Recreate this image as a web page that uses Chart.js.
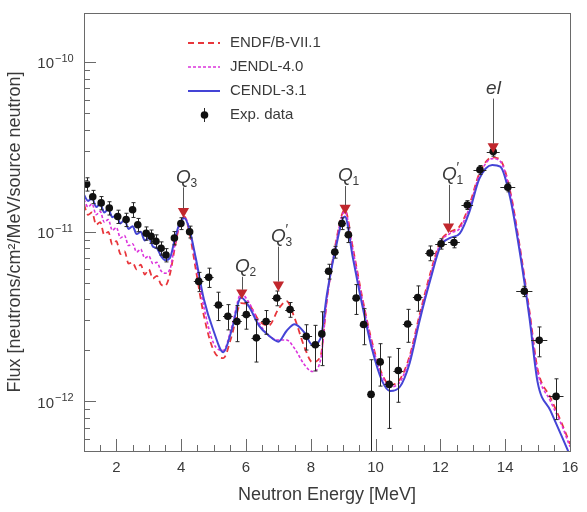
<!DOCTYPE html>
<html>
<head>
<meta charset="utf-8">
<script src="https://cdn.jsdelivr.net/npm/chart.js@4.4.1/dist/chart.umd.min.js"></script>
<style>
  html, body { margin: 0; padding: 0; background: #fff; }
  #wrap { width: 587px; height: 512px; }
</style>
</head>
<body>
<div id="wrap"><canvas id="fluxChart" width="587" height="512"></canvas></div>
<script>
// flux values below are in units of 1e-12 n/cm2/MeV/source neutron
const FLUX_UNIT = 1e-12;

const energyGrid = [1.0, 1.125, 1.25, 1.375, 1.5, 1.625, 1.75, 1.875, 2.0, 2.125, 2.25, 2.375, 2.5, 2.625, 2.75, 2.875, 3.0, 3.125, 3.25, 3.375, 3.5,
  3.65, 3.8, 3.95, 4.1, 4.25, 4.45, 4.7, 5.0, 5.3, 5.55, 5.85, 6.1, 6.4, 6.7, 7.0, 7.25, 7.5, 7.8, 8.05, 8.3,
  8.5, 8.75, 9.05, 9.3, 9.6, 9.9, 10.2, 10.45, 10.75, 11.05, 11.35, 11.7, 12.0, 12.3, 12.6, 12.9, 13.2, 13.6, 13.85, 14.15,
  14.45, 14.75, 15.0, 15.4, 15.75, 16.0];

const endfFlux = [14.5, 12.6, 13.0, 11.0, 11.4, 9.6, 10.0, 8.4, 8.8, 7.4, 7.7, 6.5, 6.6, 6.0, 6.4, 5.6, 6.0, 5.3, 5.5, 4.9, 4.8,
  5.6, 8.0, 11.0, 12.3, 10.0, 6.0, 3.2, 2.0, 1.8, 2.4, 3.8, 3.7, 3.0, 2.8, 3.5, 3.9, 3.1, 2.1, 1.7, 1.85,
  4.0, 8.2, 13.5, 8.0, 4.0, 2.2, 1.45, 1.25, 1.35, 1.85, 3.2, 5.8, 8.8, 10.0, 10.8, 14.5, 22.0, 27.5, 26.5, 17.5,
  8.2, 3.4, 1.55, 1.05, 0.74, 0.56];

const jendlFlux = [15.5, 14.0, 14.6, 12.6, 13.2, 11.4, 11.8, 10.2, 10.6, 9.2, 9.5, 8.3, 8.5, 7.6, 7.9, 7.0, 7.2, 6.5, 6.6, 5.9, 5.7,
  6.0, 8.3, 11.0, 12.2, 10.4, 6.6, 3.6, 2.2, 2.0, 2.7, 4.3, 3.8, 2.9, 2.45, 2.3, 2.3, 2.05, 1.65, 1.5, 1.75,
  4.0, 8.0, 13.2, 7.8, 3.9, 2.15, 1.42, 1.22, 1.3, 1.8, 3.1, 5.6, 8.6, 9.8, 10.5, 14.0, 21.5, 27.0, 26.0, 17.2,
  8.0, 3.3, 1.5, 1.0, 0.72, 0.54];

const cendlFlux = [16.5, 15.2, 15.8, 14.0, 14.6, 13.0, 13.6, 12.2, 12.5, 11.2, 11.8, 10.4, 10.8, 9.7, 10.0, 8.9, 9.2, 8.2, 8.0, 7.2, 6.8,
  7.0, 9.0, 11.2, 12.0, 10.4, 7.0, 4.0, 2.6, 1.95, 2.6, 4.1, 3.6, 2.8, 2.45, 2.25, 2.6, 2.85, 2.55, 2.15, 2.35,
  4.3, 7.7, 12.3, 7.0, 3.6, 2.0, 1.32, 1.15, 1.22, 1.68, 2.95, 5.3, 8.2, 9.2, 9.8, 13.2, 20.5, 24.8, 24.2, 16.0,
  7.6, 3.1, 1.3, 0.88, 0.62, 0.48];

const expEnergy = [1.08, 1.27, 1.53, 1.78, 2.04, 2.30, 2.50, 2.66, 2.92, 3.07, 3.22, 3.38, 3.53, 3.79, 3.99,
  4.26, 4.54, 4.85, 5.15, 5.44, 5.72, 6.01, 6.32, 6.62, 6.95, 7.36, 7.86, 8.14, 8.34, 8.55,
  8.74, 8.96, 9.16, 9.40, 9.63, 9.86, 10.14, 10.42, 10.70, 10.99, 11.30, 11.68, 12.02, 12.42, 12.83,
  13.22, 13.63, 14.08, 14.59, 15.05, 15.57];
const expFlux = [19.1, 16.1, 14.8, 13.8, 12.3, 11.8, 13.5, 11.0, 9.8, 9.4, 8.8, 8.0, 7.3, 9.2, 11.2,
  10.0, 5.1, 5.4, 3.7, 3.18, 2.96, 3.25, 2.37, 2.96, 4.07, 3.48, 2.42, 2.16, 2.5, 5.85,
  7.6, 11.2, 9.6, 4.07, 2.84, 1.1, 1.71, 1.26, 1.52, 2.86, 4.1, 7.5, 8.5, 8.65, 14.4,
  23.2, 29.7, 18.3, 4.46, 2.29, 1.07];
// relative flux uncertainty
const expRelErr = [0.09, 0.09, 0.09, 0.09, 0.09, 0.09, 0.1, 0.09, 0.09, 0.09, 0.09, 0.09, 0.09, 0.09, 0.08,
  0.08, 0.13, 0.13, 0.19, 0.17, 0.24, 0.18, 0.28, 0.16, 0.1, 0.1, 0.17, 0.3, 0.35, 0.1,
  0.08, 0.08, 0.1, 0.2, 0.24, 0.6, 0.28, 0.45, 0.35, 0.22, 0.17, 0.1, 0.07, 0.07, 0.06,
  0.06, 0.06, 0.06, 0.07, 0.2, 0.27];
// energy bin half width [MeV]
const expEnergyErr = [0.08, 0.08, 0.08, 0.08, 0.08, 0.08, 0.08, 0.08, 0.08, 0.08, 0.08, 0.08, 0.08, 0.08, 0.08,
  0.08, 0.15, 0.15, 0.15, 0.15, 0.15, 0.15, 0.15, 0.15, 0.15, 0.15, 0.18, 0.15, 0.1, 0.12,
  0.12, 0.12, 0.12, 0.12, 0.12, 0.12, 0.12, 0.15, 0.15, 0.15, 0.15, 0.15, 0.18, 0.18, 0.18,
  0.2, 0.2, 0.23, 0.25, 0.25, 0.23];

// peak markers
const peakText = ['Q', 'Q', 'Q', 'Q', 'Q', 'el'];
const peakSub = ['3', '2', '3', '1', '1', ''];
const peakPrime = [false, false, true, false, true, false];
const peakEnergy = [4.07, 5.87, 7.0, 9.06, 12.25, 13.63];
const peakFlux = [13.2, 4.37, 4.88, 13.8, 10.7, 31.8];
const peakLabelLift = [34, 26, 48, 32, 52, 58];

const xTickValues = [2, 4, 6, 8, 10, 12, 14, 16];
const yDecades = [-12, -11, -10];
const legendLabels = ['ENDF/B-VII.1', 'JENDL-4.0', 'CENDL-3.1', 'Exp. data'];

const FONT = '"Liberation Sans", Arial, sans-serif';
const TEXT_COLOR = '#3a3a3a';
const AXIS_COLOR = '#6a6a6a';

const toPoints = (xs, ys) => xs.map((x, i) => ({ x: x, y: ys[i] * FLUX_UNIT }));

// error bars under the experimental markers
const errorBarPlugin = {
  id: 'errorBars',
  beforeDatasetDraw(chart, args) {
    if (chart.data.datasets[args.index].label !== 'Exp. data') return;
    const { ctx, chartArea, scales: { x, y } } = chart;
    ctx.save();
    ctx.beginPath();
    ctx.rect(chartArea.left, chartArea.top, chartArea.width, chartArea.height);
    ctx.clip();
    ctx.strokeStyle = '#262626';
    ctx.lineWidth = 1;
    expEnergy.forEach((e, i) => {
      const v = expFlux[i] * FLUX_UNIT;
      const px = Math.round(x.getPixelForValue(e)) + 0.5;
      const py = Math.round(y.getPixelForValue(v)) + 0.5;
      const yHi = y.getPixelForValue(v * (1 + expRelErr[i]));
      const yLo = y.getPixelForValue(v * (1 - expRelErr[i]));
      const xL = x.getPixelForValue(e - expEnergyErr[i]);
      const xR = x.getPixelForValue(e + expEnergyErr[i]);
      ctx.beginPath();
      ctx.moveTo(px, yHi); ctx.lineTo(px, yLo);
      ctx.moveTo(xL, py); ctx.lineTo(xR, py);
      ctx.moveTo(px - 2, yHi); ctx.lineTo(px + 2, yHi);
      ctx.moveTo(px - 2, yLo); ctx.lineTo(px + 2, yLo);
      ctx.stroke();
    });
    ctx.restore();
  }
};

// arrows and Q labels above the red triangles
const peakLabelPlugin = {
  id: 'peakLabels',
  afterDatasetsDraw(chart) {
    const { ctx, scales: { x, y } } = chart;
    ctx.save();
    peakEnergy.forEach((e, i) => {
      const px = Math.round(x.getPixelForValue(e)) + 0.5;
      const py = y.getPixelForValue(peakFlux[i] * FLUX_UNIT);
      const ly = py - peakLabelLift[i];
      ctx.strokeStyle = '#555';
      ctx.lineWidth = 1;
      ctx.beginPath();
      ctx.moveTo(px, ly + 10);
      ctx.lineTo(px, py - 3);
      ctx.stroke();
      ctx.fillStyle = TEXT_COLOR;
      ctx.textBaseline = 'middle';
      ctx.textAlign = 'center';
      ctx.font = 'italic 19px ' + FONT;
      ctx.fillText(peakText[i], px, ly);
      ctx.textAlign = 'left';
      if (peakSub[i]) {
        ctx.font = '12px ' + FONT;
        ctx.fillText(peakSub[i], px + 7, ly + 6);
      }
      if (peakPrime[i]) {
        ctx.font = '14px ' + FONT;
        ctx.fillText('\u2032', px + 7, ly - 7);
      }
    });
    ctx.restore();
  }
};

// ROOT-like frame with inward ticks and 10^n labels
const framePlugin = {
  id: 'frameTicks',
  afterDraw(chart) {
    const { ctx, chartArea: a, scales: { x, y } } = chart;
    ctx.save();
    ctx.strokeStyle = AXIS_COLOR;
    ctx.lineWidth = 1;
    ctx.strokeRect(Math.round(a.left) + 0.5, Math.round(a.top) + 0.5, Math.round(a.width), Math.round(a.height));
    ctx.beginPath();
    for (let v = x.min; v <= x.max + 1e-9; v += 0.5) {
      const px = Math.round(x.getPixelForValue(v)) + 0.5;
      const len = v % 2 === 0 ? 12 : 6;
      ctx.moveTo(px, a.bottom);
      ctx.lineTo(px, a.bottom - len);
    }
    for (let d = -13; d <= -10; d++) {
      for (let m = 1; m <= 9; m++) {
        const v = m * Math.pow(10, d);
        if (v < y.min || v > y.max) continue;
        const py = Math.round(y.getPixelForValue(v)) + 0.5;
        const len = m === 1 ? 12 : 6;
        ctx.moveTo(a.left, py);
        ctx.lineTo(a.left + len, py);
      }
    }
    ctx.stroke();

    ctx.fillStyle = TEXT_COLOR;
    ctx.textBaseline = 'middle';
    yDecades.forEach(d => {
      const py = y.getPixelForValue(Math.pow(10, d));
      ctx.font = '15px ' + FONT;
      ctx.textAlign = 'right';
      ctx.fillText('10', a.left - 30, py + 2);
      ctx.font = '11px ' + FONT;
      ctx.textAlign = 'left';
      ctx.fillText('\u2212' + Math.abs(d), a.left - 29, py - 3);
    });
    ctx.restore();
  }
};

// legend in the upper left of the frame
const legendPlugin = {
  id: 'frameLegend',
  afterDraw(chart) {
    const { ctx, chartArea: a } = chart;
    ctx.save();
    legendLabels.forEach((label, i) => {
      const ds = chart.data.datasets.find(d => d.label === label);
      const yy = a.top + 30 + i * 24;
      const x0 = a.left + 104, x1 = a.left + 136;
      if (label === 'Exp. data') {
        const cx = (x0 + x1) / 2;
        ctx.strokeStyle = '#262626';
        ctx.lineWidth = 1;
        ctx.beginPath();
        ctx.moveTo(cx + 0.5, yy - 7); ctx.lineTo(cx + 0.5, yy + 7);
        ctx.stroke();
        ctx.fillStyle = ds.backgroundColor;
        ctx.beginPath();
        ctx.arc(cx + 0.5, yy, 3.8, 0, Math.PI * 2);
        ctx.fill();
      } else {
        ctx.strokeStyle = ds.borderColor;
        ctx.lineWidth = ds.borderWidth;
        ctx.setLineDash(ds.borderDash || []);
        ctx.beginPath();
        ctx.moveTo(x0, yy); ctx.lineTo(x1, yy);
        ctx.stroke();
        ctx.setLineDash([]);
      }
      ctx.fillStyle = TEXT_COLOR;
      ctx.font = '15px ' + FONT;
      ctx.textAlign = 'left';
      ctx.textBaseline = 'middle';
      ctx.fillText(label, a.left + 146, yy);
    });
    ctx.restore();
  }
};

function curveDataset(label, values, color, width, dash) {
  return {
    type: 'line',
    label: label,
    data: toPoints(energyGrid, values),
    borderColor: color,
    borderWidth: width,
    borderDash: dash,
    pointRadius: 0,
    fill: false,
    cubicInterpolationMode: 'monotone'
  };
}

const ctx = document.getElementById('fluxChart').getContext('2d');
const fluxChart = new Chart(ctx, {
  type: 'scatter',
  data: {
    datasets: [
      {
        label: 'peaks',
        data: toPoints(peakEnergy, peakFlux),
        pointStyle: 'triangle',
        rotation: 180,
        pointRadius: 6.5,
        backgroundColor: '#c1272d',
        borderColor: '#c1272d',
        borderWidth: 0
      },
      {
        label: 'Exp. data',
        data: toPoints(expEnergy, expFlux),
        pointStyle: 'circle',
        pointRadius: 3.8,
        backgroundColor: '#111',
        borderWidth: 0
      },
      curveDataset('CENDL-3.1', cendlFlux, '#4444d6', 2, []),
      curveDataset('JENDL-4.0', jendlFlux, '#dc33dc', 1.6, [3, 2]),
      curveDataset('ENDF/B-VII.1', endfFlux, '#e8363c', 1.8, [6, 4])
    ]
  },
  options: {
    responsive: false,
    devicePixelRatio: 1,
    animation: false,
    layout: { padding: { left: 0, top: 13, right: 17, bottom: 0 } },
    plugins: { legend: { display: false }, tooltip: { enabled: false } },
    scales: {
      x: {
        type: 'linear',
        min: 1,
        max: 16,
        grid: { display: false, drawTicks: false },
        border: { display: false },
        afterBuildTicks: s => { s.ticks = xTickValues.map(v => ({ value: v })); },
        afterFit: s => { s.height = 61; },
        ticks: { autoSkip: false, maxRotation: 0, padding: 8, color: TEXT_COLOR, font: { family: FONT, size: 15 } },
        title: { display: true, text: 'Neutron Energy [MeV]', color: TEXT_COLOR, font: { family: FONT, size: 18 }, padding: { top: 0, bottom: 6 } }
      },
      y: {
        type: 'logarithmic',
        min: 5.1e-13,
        max: 1.95e-10,
        grid: { display: false, drawTicks: false },
        border: { display: false },
        ticks: { display: false },
        afterFit: s => { s.width = 84; },
        title: { display: true, text: 'Flux [neutrons/cm\u00B2/MeV/source neutron]', color: TEXT_COLOR, font: { family: FONT, size: 18 }, padding: { top: 4, bottom: 0 } }
      }
    }
  },
  plugins: [errorBarPlugin, peakLabelPlugin, framePlugin, legendPlugin]
});
</script>
</body>
</html>
